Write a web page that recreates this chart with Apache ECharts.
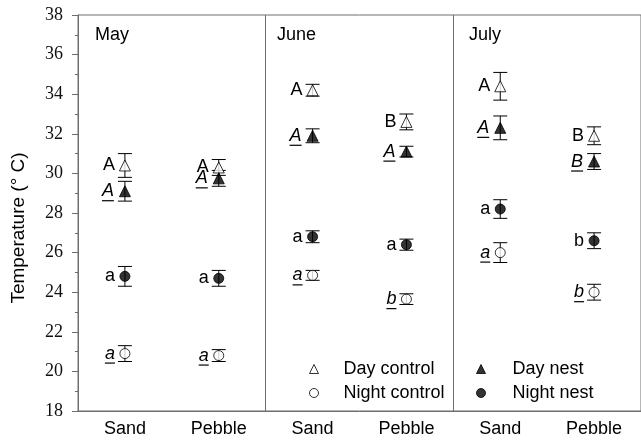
<!DOCTYPE html>
<html>
<head>
<meta charset="utf-8">
<script src="https://cdn.jsdelivr.net/npm/echarts@6/dist/echarts.min.js"></script>
<style>html,body{margin:0;padding:0;background:#fff}#c{width:641px;height:440px}</style>
</head>
<body>
<div id="c"></div>
<script>
const categories = ['Sand', 'Pebble', 'Sand', 'Pebble', 'Sand', 'Pebble'];
const months = ['May', 'June', 'July'];
const yTicks = { min: 18, max: 38, interval: 2 };

const dayControl = [30.4, 30.3, 34.2, 32.6, 34.4, 31.9];
const dayControlErr = [0.6, 0.4, 0.3, 0.4, 0.7, 0.45];
const dayNest = [29.1, 29.75, 31.9, 31.1, 32.3, 30.6];
const dayNestErr = [0.5, 0.4, 0.35, 0.27, 0.6, 0.4];
const nightNest = [24.8, 24.7, 26.8, 26.4, 28.2, 26.6];
const nightNestErr = [0.5, 0.4, 0.3, 0.28, 0.47, 0.4];
const nightControl = [20.9, 20.8, 24.85, 23.65, 26.0, 24.0];
const nightControlErr = [0.4, 0.3, 0.25, 0.27, 0.5, 0.4];

const dayControlLetters = ['A', 'A', 'A', 'B', 'A', 'B'];
const dayNestLetters = ['A', 'A', 'A', 'A', 'A', 'B'];
const nightNestLetters = ['a', 'a', 'a', 'a', 'a', 'b'];
const nightControlLetters = ['a', 'a', 'a', 'b', 'a', 'b'];

const FONT = '"Liberation Sans", Arial, sans-serif';
const AXIS_COLOR = '#6e6e6e';

function errData(vals, errs) { return vals.map((v, i) => [i, v, errs[i]]); }
function ptData(vals) { return vals.map((v, i) => [i, v]); }

function errRender(letters, underline) {
  return function (params, api) {
    const x = api.value(0), v = api.value(1), e = api.value(2);
    const c = api.coord([x, v]);
    const hi = api.coord([x, v + e]);
    const lo = api.coord([x, v - e]);
    const cw = 7;
    const ls = { stroke: '#000', lineWidth: 1 };
    const letter = letters[params.dataIndex];
    const upper = letter === letter.toUpperCase();
    const right = c[0] - (underline && upper ? 11 : 10);
    const children = [
      { type: 'line', shape: { x1: c[0], y1: hi[1], x2: c[0], y2: lo[1] }, style: ls },
      { type: 'line', shape: { x1: c[0] - cw, y1: hi[1], x2: c[0] + cw, y2: hi[1] }, style: ls },
      { type: 'line', shape: { x1: c[0] - cw, y1: lo[1], x2: c[0] + cw, y2: lo[1] }, style: ls },
      { type: 'text', x: right, y: c[1], style: {
          text: letter, textAlign: 'right', textVerticalAlign: 'middle',
          font: (underline ? 'italic ' : '') + '18px ' + FONT, fill: '#000' } }
    ];
    if (underline) {
      const w = upper ? 12 : 10;
      children.push({ type: 'line', shape: { x1: right - w, y1: c[1] + 9.5, x2: right, y2: c[1] + 9.5 },
        style: { stroke: '#000', lineWidth: 1.2 } });
    }
    return { type: 'group', children };
  };
}

const chart = echarts.init(document.getElementById('c'), null, { renderer: 'canvas' });

const legendStyle = {
  dc: { color: '#fff', borderColor: '#000', borderWidth: 1 },
  nc: { color: '#fff', borderColor: '#000', borderWidth: 1 },
  dn: { color: '#000', borderColor: '#000', borderWidth: 1 },
  nn: { color: '#000', borderColor: '#000', borderWidth: 1 }
};

const option = {
  animation: false,
  backgroundColor: '#fff',
  grid: { left: 78, top: 15, width: 567, height: 396, show: true, borderColor: AXIS_COLOR, borderWidth: 1 },
  graphic: months.map((m, i) => ({
    type: 'text', left: [95, 277, 469][i], top: 26,
    style: { text: m, font: '18px ' + FONT, fill: '#000' }
  })),
  legend: [
    {
      left: 309, top: 360, orient: 'vertical', padding: 0, itemGap: 6,
      itemWidth: 9, itemHeight: 9,
      textStyle: { fontFamily: FONT, fontSize: 18, color: '#000', padding: [0, 0, 0, 20] },
      data: [
        { name: 'Day control', itemStyle: legendStyle.dc },
        { name: 'Night control', itemStyle: legendStyle.nc }
      ]
    },
    {
      left: 476, top: 360, orient: 'vertical', padding: 0, itemGap: 6,
      itemWidth: 9, itemHeight: 9,
      textStyle: { fontFamily: FONT, fontSize: 18, color: '#000', padding: [0, 0, 0, 22] },
      data: [
        { name: 'Day nest', itemStyle: legendStyle.dn },
        { name: 'Night nest', itemStyle: legendStyle.nn }
      ]
    }
  ],
  xAxis: {
    type: 'category', data: categories, boundaryGap: true,
    axisLine: { lineStyle: { color: AXIS_COLOR } },
    axisTick: { alignWithLabel: true, length: 5, lineStyle: { color: AXIS_COLOR } },
    axisLabel: { fontFamily: FONT, fontSize: 18, color: '#000', margin: 9 },
    splitLine: { show: true, interval: function (i) { return i === 2 || i === 4; },
      lineStyle: { color: AXIS_COLOR, width: 1 } }
  },
  yAxis: {
    type: 'value', min: yTicks.min, max: yTicks.max, interval: yTicks.interval,
    name: 'Temperature (° C)', nameLocation: 'middle', nameGap: 50,
    nameTextStyle: { fontFamily: FONT, fontSize: 19, color: '#000', padding: [0, 30, 0, 0] },
    axisLine: { show: true, lineStyle: { color: AXIS_COLOR } },
    axisTick: { show: true, length: 6, lineStyle: { color: AXIS_COLOR } },
    minorTick: { show: true, splitNumber: 2, length: 3, lineStyle: { color: AXIS_COLOR } },
    axisLabel: { fontFamily: '"Liberation Serif", "Times New Roman", serif', fontSize: 18, color: '#111', margin: 15 },
    splitLine: { show: false }
  },
  series: [
    { type: 'custom', name: 'dcErr', renderItem: errRender(dayControlLetters, false), data: errData(dayControl, dayControlErr), encode: { x: 0, y: 1 }, z: 2 },
    { type: 'custom', name: 'dnErr', renderItem: errRender(dayNestLetters, true), data: errData(dayNest, dayNestErr), encode: { x: 0, y: 1 }, z: 2 },
    { type: 'custom', name: 'nnErr', renderItem: errRender(nightNestLetters, false), data: errData(nightNest, nightNestErr), encode: { x: 0, y: 1 }, z: 2 },
    { type: 'custom', name: 'ncErr', renderItem: errRender(nightControlLetters, true), data: errData(nightControl, nightControlErr), encode: { x: 0, y: 1 }, z: 2 },
    { type: 'scatter', name: 'Day control', symbol: 'triangle', symbolSize: 11, data: ptData(dayControl), itemStyle: legendStyle.dc, z: 3 },
    { type: 'scatter', name: 'Day nest', symbol: 'triangle', symbolSize: 11, data: ptData(dayNest), itemStyle: legendStyle.dn, z: 3 },
    { type: 'scatter', name: 'Night control', symbol: 'circle', symbolSize: 10, data: ptData(nightControl), itemStyle: legendStyle.nc, z: 3 },
    { type: 'scatter', name: 'Night nest', symbol: 'circle', symbolSize: 10, data: ptData(nightNest), itemStyle: legendStyle.nn, z: 3 }
  ]
};
chart.setOption(option);
</script>
</body>
</html>
